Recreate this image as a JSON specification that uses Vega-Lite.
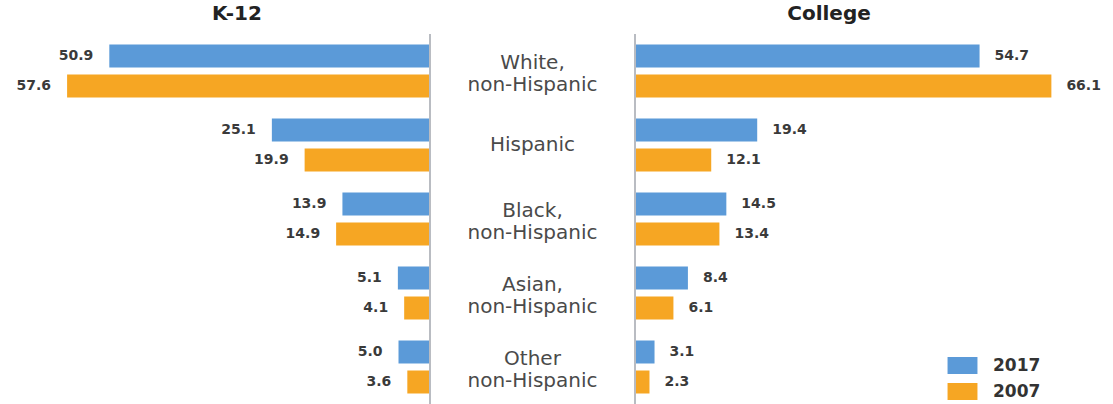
{
  "$schema": "https://vega.github.io/schema/vega-lite/v6.json",
  "padding": {"left": 0, "right": 0, "top": 4, "bottom": 0},
  "spacing": 0,
  "config": {
    "view": {"stroke": null},
    "concat": {"spacing": 0},
    "text": {"lineBreak": "\n"},
    "font": "DejaVu Sans"
  },
  "data": {
    "values": [
      {"cat": "White,\nnon-Hispanic", "level": "K-12", "year": "2017", "value": 50.9},
      {"cat": "White,\nnon-Hispanic", "level": "K-12", "year": "2007", "value": 57.6},
      {"cat": "Hispanic", "level": "K-12", "year": "2017", "value": 25.1},
      {"cat": "Hispanic", "level": "K-12", "year": "2007", "value": 19.9},
      {"cat": "Black,\nnon-Hispanic", "level": "K-12", "year": "2017", "value": 13.9},
      {"cat": "Black,\nnon-Hispanic", "level": "K-12", "year": "2007", "value": 14.9},
      {"cat": "Asian,\nnon-Hispanic", "level": "K-12", "year": "2017", "value": 5.1},
      {"cat": "Asian,\nnon-Hispanic", "level": "K-12", "year": "2007", "value": 4.1},
      {"cat": "Other\nnon-Hispanic", "level": "K-12", "year": "2017", "value": 5.0},
      {"cat": "Other\nnon-Hispanic", "level": "K-12", "year": "2007", "value": 3.6},
      {"cat": "White,\nnon-Hispanic", "level": "College", "year": "2017", "value": 54.7},
      {"cat": "White,\nnon-Hispanic", "level": "College", "year": "2007", "value": 66.1},
      {"cat": "Hispanic", "level": "College", "year": "2017", "value": 19.4},
      {"cat": "Hispanic", "level": "College", "year": "2007", "value": 12.1},
      {"cat": "Black,\nnon-Hispanic", "level": "College", "year": "2017", "value": 14.5},
      {"cat": "Black,\nnon-Hispanic", "level": "College", "year": "2007", "value": 13.4},
      {"cat": "Asian,\nnon-Hispanic", "level": "College", "year": "2017", "value": 8.4},
      {"cat": "Asian,\nnon-Hispanic", "level": "College", "year": "2007", "value": 6.1},
      {"cat": "Other\nnon-Hispanic", "level": "College", "year": "2017", "value": 3.1},
      {"cat": "Other\nnon-Hispanic", "level": "College", "year": "2007", "value": 2.3}
    ]
  },
  "resolve": {"legend": {"color": "independent"}},
  "hconcat": [
    {
      "width": 430,
      "height": 370,
      "title": {"text": "K-12", "fontSize": 20, "fontWeight": "bold", "color": "#222", "offset": 9, "dx": 22, "font": "DejaVu Sans"},
      "transform": [{"filter": "datum.level === 'K-12'"}],
      "layer": [
        {
          "mark": {"type": "bar"},
          "encoding": {
            "y": {"field": "cat", "type": "nominal", "sort": ["White,\nnon-Hispanic", "Hispanic", "Black,\nnon-Hispanic", "Asian,\nnon-Hispanic", "Other\nnon-Hispanic"], "axis": null, "scale": {"paddingInner": 0, "paddingOuter": 0}},
            "yOffset": {"field": "year", "type": "nominal", "sort": ["2017", "2007"], "scale": {"paddingInner": 0.2333, "paddingOuter": 0.35}},
            "x": {"field": "value", "type": "quantitative", "axis": null, "scale": {"domain": [0, 68.25], "reverse": true, "nice": false, "zero": true}},
            "color": {"field": "year", "type": "nominal", "legend": null, "scale": {"domain": ["2017", "2007"], "range": ["#5b9ad8", "#f6a623"]}}
          }
        },
        {
          "mark": {"type": "text", "align": "right", "dx": -16, "fontSize": 14, "fontWeight": "bold", "color": "#3a3a3a", "baseline": "middle"},
          "encoding": {
            "y": {"field": "cat", "type": "nominal", "sort": ["White,\nnon-Hispanic", "Hispanic", "Black,\nnon-Hispanic", "Asian,\nnon-Hispanic", "Other\nnon-Hispanic"], "axis": null},
            "yOffset": {"field": "year", "type": "nominal", "sort": ["2017", "2007"]},
            "x": {"field": "value", "type": "quantitative"},
            "text": {"field": "value", "type": "quantitative", "format": ".1f"}
          }
        },
        {
          "mark": {"type": "rule", "color": "#b9bcc2", "strokeWidth": 2},
          "encoding": {"x": {"datum": 0, "type": "quantitative"}}
        }
      ]
    },
    {
      "width": 203,
      "height": 370,
      "title": {"text": " ", "fontSize": 20, "offset": 9},
      "transform": [{"filter": "datum.level === 'K-12' && datum.year === '2017'"}],
      "mark": {"type": "text", "fontSize": 20, "color": "#4a4a4a", "lineHeight": 22, "baseline": "middle", "dy": {"expr": "indexof(datum.cat, '\\n') >= 0 ? -8 : 0"}},
      "encoding": {
        "y": {"field": "cat", "type": "nominal", "sort": ["White,\nnon-Hispanic", "Hispanic", "Black,\nnon-Hispanic", "Asian,\nnon-Hispanic", "Other\nnon-Hispanic"], "axis": null, "scale": {"paddingInner": 0, "paddingOuter": 0}},
        "text": {"field": "cat", "type": "nominal"}
      }
    },
    {
      "width": 480,
      "height": 370,
      "title": {"text": "College", "fontSize": 20, "fontWeight": "bold", "color": "#222", "offset": 9, "dx": -46, "font": "DejaVu Sans"},
      "transform": [{"filter": "datum.level === 'College'"}],
      "layer": [
        {
          "mark": {"type": "bar"},
          "encoding": {
            "y": {"field": "cat", "type": "nominal", "sort": ["White,\nnon-Hispanic", "Hispanic", "Black,\nnon-Hispanic", "Asian,\nnon-Hispanic", "Other\nnon-Hispanic"], "axis": null, "scale": {"paddingInner": 0, "paddingOuter": 0}},
            "yOffset": {"field": "year", "type": "nominal", "sort": ["2017", "2007"], "scale": {"paddingInner": 0.2333, "paddingOuter": 0.35}},
            "x": {"field": "value", "type": "quantitative", "axis": null, "scale": {"domain": [0, 76.2], "nice": false, "zero": true}},
            "color": {
              "field": "year", "type": "nominal",
              "scale": {"domain": ["2017", "2007"], "range": ["#5b9ad8", "#f6a623"]},
              "legend": {
                "title": null,
                "orient": "none",
                "legendX": 319,
                "legendY": 323,
                "symbolType": "M-1.76,-1H1.76V1H-1.76Z",
                "symbolSize": 289,
                "symbolStrokeWidth": 0,
                "symbolOpacity": 1,
                "labelFontSize": 17,
                "labelFontWeight": "bold",
                "labelColor": "#333",
                "labelFont": "DejaVu Sans",
                "labelOffset": 22,
                "rowPadding": 8,
                "padding": 0
              }
            }
          }
        },
        {
          "mark": {"type": "text", "align": "left", "dx": 15, "fontSize": 14, "fontWeight": "bold", "color": "#3a3a3a", "baseline": "middle"},
          "encoding": {
            "y": {"field": "cat", "type": "nominal", "sort": ["White,\nnon-Hispanic", "Hispanic", "Black,\nnon-Hispanic", "Asian,\nnon-Hispanic", "Other\nnon-Hispanic"], "axis": null},
            "yOffset": {"field": "year", "type": "nominal", "sort": ["2017", "2007"]},
            "x": {"field": "value", "type": "quantitative"},
            "text": {"field": "value", "type": "quantitative", "format": ".1f"}
          }
        },
        {
          "mark": {"type": "rule", "color": "#b9bcc2", "strokeWidth": 2},
          "encoding": {"x": {"datum": 0, "type": "quantitative"}}
        }
      ]
    }
  ]
}
